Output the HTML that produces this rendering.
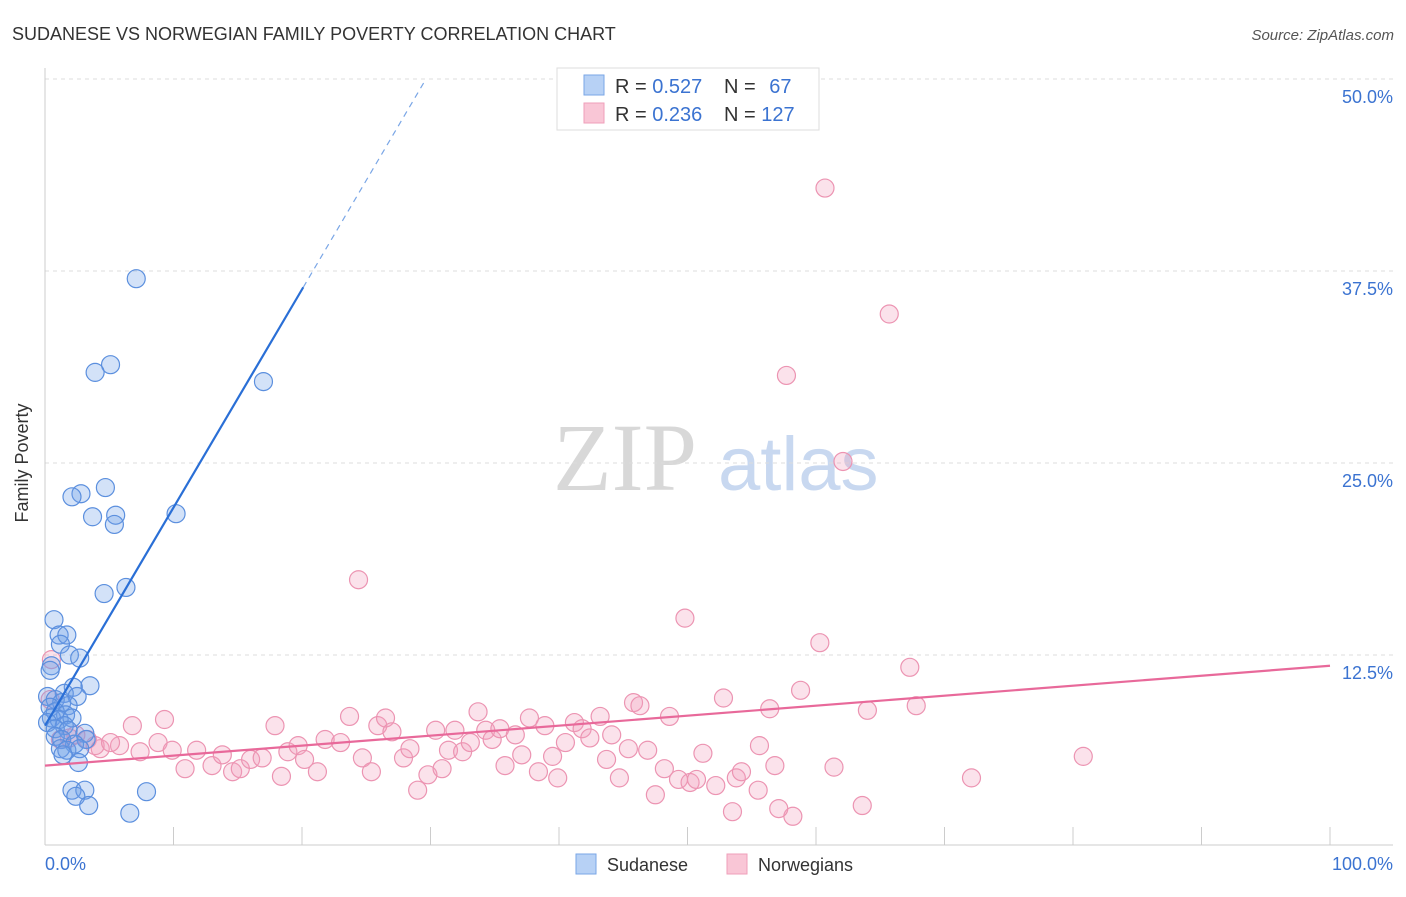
<!DOCTYPE html>
<html><head><meta charset="utf-8"><style>
body{margin:0;background:#fff;font-family:"Liberation Sans",sans-serif}
</style></head><body>
<svg width="1406" height="892" xmlns="http://www.w3.org/2000/svg" style="font-family:'Liberation Sans',sans-serif">
<text x="12" y="40" font-size="18" fill="#333">SUDANESE VS NORWEGIAN FAMILY POVERTY CORRELATION CHART</text>
<text x="1394" y="40" font-size="15" fill="#555" text-anchor="end" font-style="italic">Source: ZipAtlas.com</text>
<g>
<text x="553" y="490" font-size="96" fill="#d8d8d8" font-family="Liberation Serif,serif">ZIP</text>
<text x="718" y="490" font-size="76" fill="#c8d8f0">atlas</text>
</g>
<g id="grid"></g>
<line x1="45" y1="68" x2="45" y2="845" stroke="#ccc"/>
<line x1="45" y1="845" x2="1393" y2="845" stroke="#ccc"/>
<text x="22" y="457" font-size="18" fill="#333" transform="rotate(-90 28 457)" text-anchor="middle">Family Poverty</text>
<text x="45" y="870" font-size="18" fill="#3b73d1">0.0%</text>
<text x="1393" y="870" font-size="18" fill="#3b73d1" text-anchor="end">100.0%</text>
<g id="pts"></g>
<g id="lines"></g>
<g>
<rect x="557" y="68" width="262" height="62" fill="#fff" stroke="#ddd"/>
<rect x="584" y="75" width="20" height="20" fill="#b7d1f5" stroke="#7aa6e6"/>
<rect x="584" y="103" width="20" height="20" fill="#f9c6d6" stroke="#ef9fba"/>
<text x="615" y="93" font-size="20" fill="#333">R = <tspan fill="#3b73d1">0.527</tspan></text>
<text x="724" y="93" font-size="20" fill="#333">N = <tspan fill="#3b73d1" dx="8">67</tspan></text>
<text x="615" y="121" font-size="20" fill="#333">R = <tspan fill="#3b73d1">0.236</tspan></text>
<text x="724" y="121" font-size="20" fill="#333">N = <tspan fill="#3b73d1">127</tspan></text>
</g>
<g>
<rect x="576" y="854" width="20" height="20" fill="#b7d1f5" stroke="#7aa6e6"/>
<text x="607" y="871" font-size="18" fill="#333">Sudanese</text></g>
<g>
<rect x="727" y="854" width="20" height="20" fill="#f9c6d6" stroke="#ef9fba"/>
<text x="758" y="871" font-size="18" fill="#333">Norwegians</text></g>
</svg>
<script>
const yTicks=[12.5,25,37.5,50];
const yTickLabels=["12.5%","25.0%","37.5%","50.0%"];
const xTicks=[0,10,20,30,40,50,60,70,80,90,100];
const sudX=[7.1,5.1,3.9,17.0,4.7,2.8,2.1,3.7,5.5,5.4,10.2,6.3,4.6,0.7,1.1,1.7,1.2,1.9,2.7,0.5,0.4,3.5,2.2,1.5,2.5,0.2,0.8,1.3,1.8,0.4,0.8,1.6,0.5,1.1,2.1,0.2,1.5,0.8,1.8,3.1,0.8,1.3,3.2,2.3,1.2,1.7,2.7,1.4,2.6,2.1,3.1,2.4,3.4,7.9,6.6];
const sudY=[37.0,31.4,30.9,30.3,23.4,23.0,22.8,21.5,21.6,21.0,21.7,16.9,16.5,14.8,13.8,13.8,13.2,12.5,12.3,11.8,11.5,10.5,10.4,10.0,9.8,9.8,9.6,9.4,9.2,9.1,8.8,8.6,8.4,8.3,8.4,8.1,7.9,7.7,7.6,7.4,7.2,7.0,7.0,6.7,6.4,6.3,6.4,6.0,5.5,3.7,3.7,3.3,2.7,3.6,2.2];
const norX=[60.7,65.7,57.7,62.1,24.4,49.8,60.3,67.3,80.8,72.1,63.6,58.2,57.1,53.5,0.5,0.4,6.8,9.3,3.3,4.3,5.8,7.4,8.8,9.9,10.9,11.8,13.0,13.8,14.6,15.2,16.0,16.9,17.9,18.4,18.9,19.7,20.2,21.2,21.8,23.0,23.7,24.7,25.4,25.9,26.5,27.0,27.9,28.4,29.0,29.8,30.4,30.9,31.4,31.9,32.5,33.1,33.7,34.3,34.8,35.4,35.8,36.6,37.1,37.7,38.4,38.9,39.5,39.9,40.5,41.2,41.8,42.4,43.2,43.7,44.1,44.7,45.4,45.8,46.3,46.9,47.5,48.2,48.6,49.3,50.2,50.7,51.2,52.2,52.8,53.8,54.2,55.5,55.6,56.4,56.8,58.8,61.4,64.0,67.8,1.2,1.9,2.4,3.9,5.1];
const norY=[42.9,34.7,30.7,25.1,17.4,14.9,13.3,11.7,5.9,4.5,2.7,2.0,2.5,2.3,12.2,9.6,7.9,8.3,7.0,6.4,6.6,6.2,6.8,6.3,5.1,6.3,5.3,6.0,4.9,5.1,5.7,5.8,7.9,4.6,6.2,6.6,5.7,4.9,7.0,6.8,8.5,5.8,4.9,7.9,8.4,7.5,5.8,6.4,3.7,4.7,7.6,5.1,6.3,7.6,6.2,6.8,8.8,7.6,7.0,7.7,5.3,7.3,6.0,8.4,4.9,7.9,5.9,4.5,6.8,8.1,7.7,7.1,8.5,5.7,7.3,4.5,6.4,9.4,9.2,6.3,3.4,5.1,8.5,4.4,4.2,4.4,6.1,4.0,9.7,4.5,4.9,3.7,6.6,9.0,5.3,10.2,5.2,8.9,9.2,7.0,7.1,7.3,6.6,6.8];
const sudTrend=[7.9,1.42];
const norTrend=[5.3,0.065];
const NS="http://www.w3.org/2000/svg";
const X=v=>45+v*12.85, Y=v=>847-v*15.36;
function mk(t,a){const e=document.createElementNS(NS,t);for(const k in a)e.setAttribute(k,a[k]);return e;}
const grid=document.getElementById('grid');
yTicks.forEach((t,i)=>{
 const l=mk('line',{x1:45,x2:1393,y1:Y(t),y2:Y(t),stroke:'#ddd','stroke-dasharray':'4,4'});
 
 
 grid.appendChild(l);
 const tx=mk('text',{x:1393,y:Y(t)+24,'font-size':18,fill:'#3b73d1','text-anchor':'end'});
 tx.textContent=yTickLabels[i];
 
 
 grid.appendChild(tx);
});
xTicks.forEach(t=>{
 const l=mk('line',{x1:X(t),x2:X(t),y1:827,y2:845,stroke:'#ccc'});
 
 
 grid.appendChild(l);
});
const pts=document.getElementById('pts');
norX.forEach((x,i)=>{
 const c=mk('circle',{cx:X(x),cy:Y(norY[i]),r:9,fill:'rgba(243,160,189,0.3)',stroke:'#ec94b2','stroke-width':1.2});
 
 
 pts.appendChild(c);
});
sudX.forEach((x,i)=>{
 const c=mk('circle',{cx:X(x),cy:Y(sudY[i]),r:9,fill:'rgba(110,160,232,0.3)',stroke:'#5b8fde','stroke-width':1.2});
 
 
 pts.appendChild(c);
});
const lines=document.getElementById('lines');
const f=(tr,x)=>tr[0]+tr[1]*x;
let l1=mk('line',{x1:X(0),y1:Y(f(sudTrend,0)),x2:X(20.1),y2:Y(f(sudTrend,20.1)),stroke:'#2a6fd6','stroke-width':2.2});


lines.appendChild(l1);
let l2=mk('line',{x1:X(20.1),y1:Y(f(sudTrend,20.1)),x2:X(29.6),y2:Y(f(sudTrend,29.6)),stroke:'#7aa6e6','stroke-width':1.2,'stroke-dasharray':'6,5'});


lines.appendChild(l2);
let l3=mk('line',{x1:X(0),y1:Y(f(norTrend,0)),x2:X(100),y2:Y(f(norTrend,100)),stroke:'#e8699a','stroke-width':2.2});


lines.appendChild(l3);
</script>
</body></html>
